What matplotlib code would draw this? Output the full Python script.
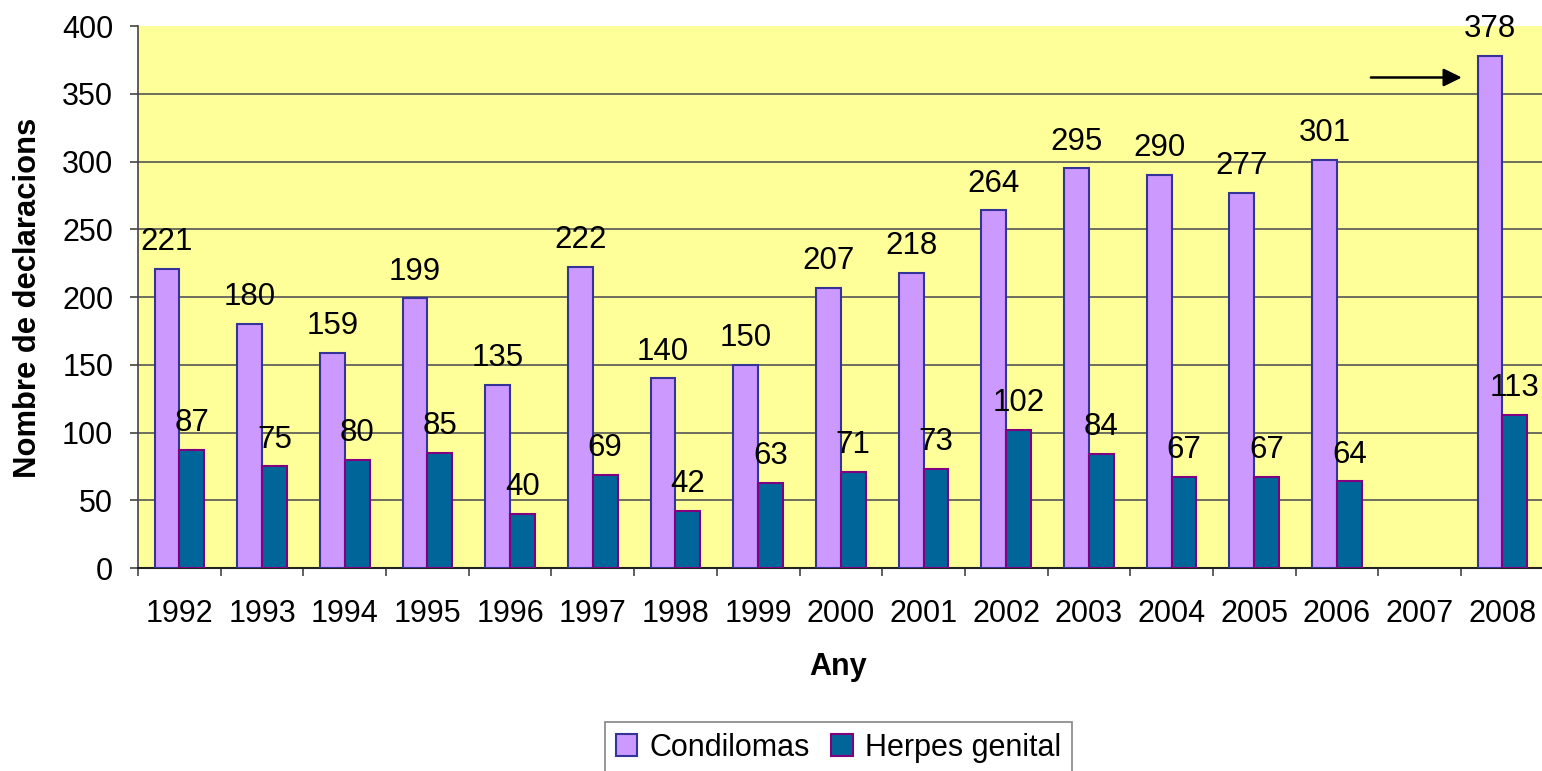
import matplotlib.pyplot as plt
import numpy as np

plt.rcParams['font.family'] = ['Liberation Sans', 'DejaVu Sans']

years = ['1992', '1993', '1994', '1995', '1996', '1997', '1998', '1999', '2000',
         '2001', '2002', '2003', '2004', '2005', '2006', '2007', '2008']
condilomas = [221, 180, 159, 199, 135, 222, 140, 150, 207, 218, 264, 295, 290, 277, 301, np.nan, 378]
herpes = [87, 75, 80, 85, 40, 69, 42, 63, 71, 73, 102, 84, 67, 67, 64, np.nan, 113]
yticks = [0, 50, 100, 150, 200, 250, 300, 350, 400]

# arrow pointing at the 2008 bar (category units, value units)
arrow_x = (14.41, 15.51)
arrow_y = 362

fig = plt.figure(figsize=(15.42, 7.71), dpi=100)
ax = fig.add_axes([138 / 1542, 1 - 568 / 771, (1543.7 - 138) / 1542, (568 - 26) / 771])
ax.set_facecolor('#FFFF99')

x = np.arange(len(years))
w = 0.3
b1 = ax.bar(x - w / 2, condilomas, w, color='#CC99FF', edgecolor='#333399', linewidth=1.5,
            label='Condilomas', zorder=3)
b2 = ax.bar(x + w / 2, herpes, w, color='#006699', edgecolor='#800080', linewidth=1.5,
            label='Herpes genital', zorder=3)

for bars, vals in ((b1, condilomas), (b2, herpes)):
    for rect, v in zip(bars, vals):
        if np.isnan(v):
            continue
        ax.annotate(str(int(v)), (rect.get_x() + rect.get_width() / 2, v),
                    xytext=(0, 13.5), textcoords='offset points',
                    ha='center', va='baseline', fontsize=22.5, zorder=5)

ax.annotate('', xy=(arrow_x[1], arrow_y), xytext=(arrow_x[0], arrow_y),
            arrowprops=dict(arrowstyle='-|>,head_length=0.55,head_width=0.27',
                            mutation_scale=20, color='black', lw=1.8,
                            shrinkA=0, shrinkB=0), zorder=6)

ax.set_xlim(-0.5, len(years) - 0.5)
ax.set_ylim(0, 400)
ax.set_yticks(yticks)
ax.yaxis.grid(True, color='#555555', linewidth=1.2, zorder=0)
ax.get_ygridlines()[-1].set_visible(False)
ax.set_axisbelow(True)

ax.set_xticks(x)
ax.set_xticklabels(years)
ax.set_xticks(np.arange(-0.5, len(years), 1), minor=True)
ax.tick_params(axis='x', which='major', length=0, pad=22, labelsize=22)
ax.tick_params(axis='x', which='minor', length=5.8, width=1.2, color='#444444', direction='out')
ax.tick_params(axis='y', length=5.8, width=1.2, color='#444444', pad=12, labelsize=22)

for s in ('top', 'right'):
    ax.spines[s].set_visible(False)
ax.spines['left'].set_color('#444444')
ax.spines['bottom'].set_color('#222222')
ax.spines['left'].set_linewidth(1.2)
ax.spines['bottom'].set_linewidth(1.5)

fig.text(838 / 1542, 1 - 667 / 771, 'Any', ha='center', va='center', fontsize=22, fontweight='bold')
fig.text(28 / 1542, 1 - 298 / 771, 'Nombre de declaracions', ha='center', va='center',
         rotation=90, fontsize=22.3, fontweight='bold')

leg = fig.legend(handles=[b1, b2], loc='upper center', bbox_to_anchor=(838.5 / 1542, 1 - 722 / 771),
                 ncol=2, fontsize=22, frameon=True, fancybox=False, handlelength=0.7,
                 handleheight=0.7, handletextpad=0.4, columnspacing=0.7, borderpad=0.35,
                 borderaxespad=0)
leg.get_frame().set_edgecolor('#666666')
leg.get_frame().set_linewidth(1.2)

fig.savefig('out.png', dpi=100)
